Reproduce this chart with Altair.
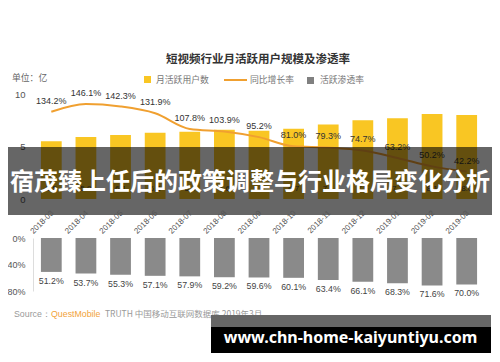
import altair as alt
import pandas as pd

# ---- data ----
months = ["2018-03", "2018-04", "2018-05", "2018-06", "2018-07", "2018-08", "2018-09",
          "2018-10", "2018-11", "2018-12", "2019-01", "2019-02", "2019-03"]
mau = [5.5, 5.9, 6.1, 6.3, 6.4, 6.6, 6.5, 6.7, 7.1, 7.5, 7.7, 8.1, 8.0]
growth = [134.2, 146.1, 142.3, 131.9, 107.8, 103.9, 95.2, 81.0, 79.3, 74.7, 63.2, 50.2, 42.2]
penetration = [51.2, 53.7, 55.3, 57.1, 57.9, 59.2, 59.6, 60.1, 63.4, 66.1, 68.3, 71.6, 70.0]

upper_ticks = [0, 5, 10]
lower_ticks = [0, 40, 80]

title_text = "短视频行业月活跃用户规模及渗透率"
legend_labels = ["月活跃用户数", "同比增长率", "活跃渗透率"]
unit_text = "单位：亿"
banner_text = "宿茂臻上任后的政策调整与行业格局变化分析"
source_parts = ["Source：", "QuestMobile", "TRUTH 中国移动互联网数据库 2019年3月"]
watermark_text = "www.chn-home-kaiyuntiyu.com"

# ---- styles ----
YELLOW = "#F9C623"
ORANGE = "#F0A030"
GRAY = "#8A8A8A"
NUM_FONT = "Liberation Sans"
CJK_FONT = "Noto Sans CJK SC"
W, H = 484, 346

df = pd.DataFrame({
    "month": months,
    "mau": mau,
    "growth": growth,
    "pen": penetration,
})
df["growth_label"] = [f"{v:.1f}%" for v in growth]
df["pen_label"] = [f"{v:.1f}%" for v in penetration]
df["mau_label"] = [f"{v:.1f}" for v in mau]

x_scale = alt.Scale(domain=months, range=[26, 476], paddingInner=0.4, paddingOuter=0.2)
x_plain = alt.X("month:N", scale=x_scale, sort=None, axis=None, title=None)

upper_scale = alt.Scale(domain=[0, 10], range=[191, 86], nice=False, zero=True)
line_scale = alt.Scale(domain=[0, 160], range=[191, 87], nice=False, zero=True)
lower_scale = alt.Scale(domain=[0, 80], range=[230, 283], nice=False, zero=True)

base = alt.Chart(df)

upper_bars = base.mark_bar(color=YELLOW).encode(
    x=x_plain,
    y=alt.Y("mau:Q", scale=upper_scale, title=None,
            axis=alt.Axis(orient="left", offset=-25, values=upper_ticks, domain=False,
                          ticks=False, grid=False, labelPadding=8, labelFont=NUM_FONT,
                          labelFontSize=9.5, labelColor="#555555")),
)

upper_labels = base.mark_text(font=NUM_FONT, fontSize=8, color="#444444").encode(
    x=x_plain, y=alt.value(181), text="mau_label:N"
)

month_labels = base.mark_text(font=NUM_FONT, fontSize=8, color="#555555", angle=315,
                              align="right", baseline="middle", dx=2).encode(
    x=x_plain, y=alt.value(205.5), text="month:N"
)

growth_line = base.mark_line(color=ORANGE, strokeWidth=2, interpolate="monotone").encode(
    x=x_plain,
    y=alt.Y("growth:Q", scale=line_scale, axis=None, title=None),
)

growth_labels = base.mark_text(font=NUM_FONT, fontSize=9, color="#333333", dy=-11,
                               baseline="middle").encode(
    x=x_plain,
    y=alt.Y("growth:Q", scale=line_scale, axis=None, title=None),
    text="growth_label:N",
)

lower_bars = base.mark_bar(color=GRAY).encode(
    x=x_plain,
    y=alt.Y("pen:Q", scale=lower_scale, title=None,
            axis=alt.Axis(orient="left", offset=-25, values=lower_ticks,
                          labelExpr="datum.value + '%'", domain=True,
                          domainColor="#DDDDDD", ticks=False, grid=False,
                          labelPadding=8, labelFont=NUM_FONT, labelFontSize=9,
                          labelColor="#555555")),
)

lower_labels = base.mark_text(font=NUM_FONT, fontSize=8.8, color="#444444", dy=9,
                              baseline="middle").encode(
    x=x_plain,
    y=alt.Y("pen:Q", scale=lower_scale, axis=None, title=None),
    text="pen_label:N",
)

one = alt.Chart(pd.DataFrame({"k": [0]}))

title = one.mark_text(font=CJK_FONT, fontSize=11.5, fontWeight="bold", color="#333333").encode(
    x=alt.value(250), y=alt.value(52), text=alt.value(title_text))

unit = one.mark_text(font=CJK_FONT, fontSize=8.8, color="#666666", align="left").encode(
    x=alt.value(4), y=alt.value(70), text=alt.value(unit_text))

leg_sq1 = one.mark_rect(color=YELLOW).encode(
    x=alt.value(136), x2=alt.value(143), y=alt.value(68), y2=alt.value(75))
leg_t1 = one.mark_text(font=CJK_FONT, fontSize=8.8, color="#777777", align="left").encode(
    x=alt.value(148), y=alt.value(71.5), text=alt.value(legend_labels[0]))
leg_line = one.mark_rule(color=ORANGE, strokeWidth=2).encode(
    x=alt.value(216), x2=alt.value(239), y=alt.value(72))
leg_t2 = one.mark_text(font=CJK_FONT, fontSize=8.8, color="#777777", align="left").encode(
    x=alt.value(242), y=alt.value(71.5), text=alt.value(legend_labels[1]))
leg_sq3 = one.mark_rect(color="#808080").encode(
    x=alt.value(299), x2=alt.value(306), y=alt.value(69), y2=alt.value(76))
leg_t3 = one.mark_text(font=CJK_FONT, fontSize=8.8, color="#777777", align="left").encode(
    x=alt.value(312), y=alt.value(72), text=alt.value(legend_labels[2]))

src1 = one.mark_text(font=NUM_FONT, fontSize=8.8, color="#999999", align="left").encode(
    x=alt.value(6), y=alt.value(306), text=alt.value(source_parts[0]))
src2 = one.mark_text(font=NUM_FONT, fontSize=8.8, color="#F2A33A", align="left").encode(
    x=alt.value(43), y=alt.value(306), text=alt.value(source_parts[1]))
src3 = one.mark_text(font=CJK_FONT, fontSize=8.5, color="#999999", align="left").encode(
    x=alt.value(97), y=alt.value(306), text=alt.value(source_parts[2]))

banner = one.mark_rect(color="black", opacity=0.6).encode(
    x=alt.value(0), x2=alt.value(W), y=alt.value(139), y2=alt.value(207))
banner_t = one.mark_text(font=CJK_FONT, fontSize=24, fontWeight="bold", color="white",
                         baseline="middle").encode(
    x=alt.value(W / 2), y=alt.value(175), text=alt.value(banner_text))

wm_band = one.mark_rect(color="#666666").encode(
    x=alt.value(203), x2=alt.value(483), y=alt.value(307), y2=alt.value(319))
wm_box = one.mark_rect(color="black").encode(
    x=alt.value(203), x2=alt.value(483), y=alt.value(319), y2=alt.value(345))
wm_t = one.mark_text(font="Noto Sans", fontSize=16, fontWeight="bold", color="white",
                     baseline="middle").encode(
    x=alt.value(342.5), y=alt.value(330), text=alt.value(watermark_text))

chart = alt.layer(
    upper_bars, upper_labels, growth_line, growth_labels, lower_bars, lower_labels,
    title, unit, leg_sq1, leg_t1, leg_line, leg_t2, leg_sq3, leg_t3,
    src1, src2, src3, banner, banner_t, month_labels, wm_band, wm_box, wm_t,
).resolve_scale(y="independent").properties(
    width=W, height=H, padding=0,
    autosize=alt.AutoSizeParams(type="none"),
).configure_view(stroke=None)

chart.save("out.html", embed_options={"renderer": "svg", "actions": False})
